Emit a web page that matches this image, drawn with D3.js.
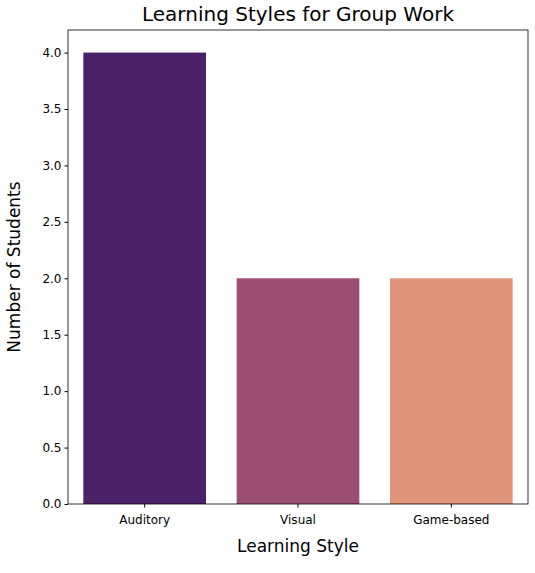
<!DOCTYPE html>
<html><head><meta charset="utf-8">
<script src="https://cdn.jsdelivr.net/npm/d3@7"></script>
<style>body{margin:0;background:#fff}text{font-family:"DejaVu Sans",sans-serif}</style>
</head><body><svg id="c" width="535" height="573"></svg>
<script>
const categories=["Auditory","Visual","Game-based"];
const values=[4,2,2];
const colors=["#4a2167","#9c4d74","#e0957a"];
const yTicks=[0,0.5,1,1.5,2,2.5,3,3.5,4];
const m={l:68,r:528,t:30,b:504};
const svg=d3.select("#c");
const x=d3.scaleBand().domain(categories).range([m.l,m.r]).paddingInner(0.2).paddingOuter(0.1);
const y=d3.scaleLinear().domain([0,4.2]).range([m.b,m.t]);
svg.selectAll("rect.bar").data(values).join("rect").attr("x",(d,i)=>x(categories[i])).attr("width",x.bandwidth())
 .attr("y",d=>y(d)).attr("height",d=>y(0)-y(d)).attr("fill",(d,i)=>colors[i]);
svg.append("rect").attr("x",m.l).attr("y",m.t).attr("width",m.r-m.l).attr("height",m.b-m.t).attr("fill","none").attr("stroke","#000").attr("stroke-width",0.8);
const gy=svg.append("g").attr("transform",`translate(${m.l},0)`).call(d3.axisLeft(y).tickValues(yTicks).tickFormat(d3.format(".1f")).tickSize(3.5).tickPadding(3));
const gx=svg.append("g").attr("transform",`translate(0,${m.b})`).call(d3.axisBottom(x).tickSize(3.5).tickPadding(8));
[gx,gy].forEach(g=>{g.select(".domain").remove();g.selectAll("text").attr("font-size",12).attr("fill","#000").attr("font-family","DejaVu Sans");});
svg.append("text").attr("x",(m.l+m.r)/2).attr("y",21).attr("text-anchor","middle").attr("font-size",20).text("Learning Styles for Group Work");
svg.append("text").attr("x",(m.l+m.r)/2).attr("y",552).attr("text-anchor","middle").attr("font-size",17).text("Learning Style");
svg.append("text").attr("transform",`translate(20,${(m.t+m.b)/2}) rotate(-90)`).attr("text-anchor","middle").attr("font-size",17).text("Number of Students");
</script></body></html>
